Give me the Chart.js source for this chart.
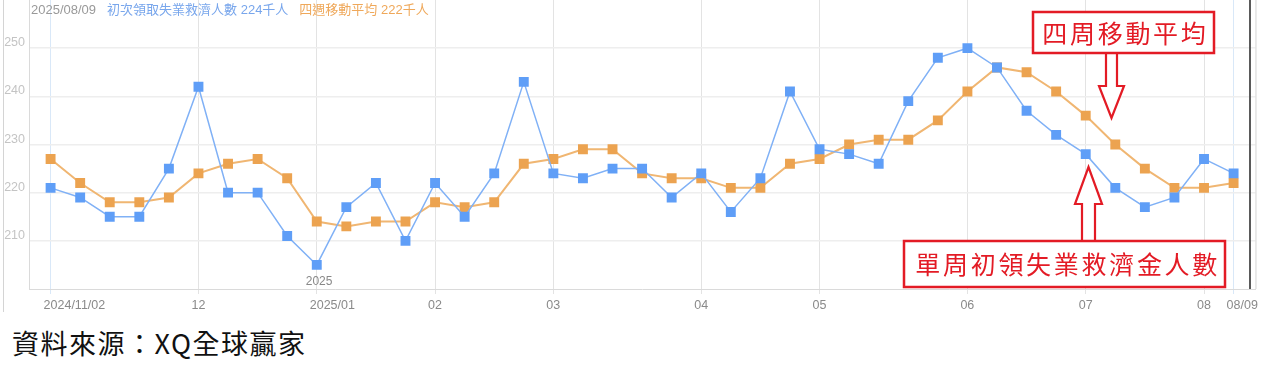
<!DOCTYPE html>
<html>
<head>
<meta charset="utf-8">
<script src="https://cdn.jsdelivr.net/npm/chart.js@4.4.0/dist/chart.umd.min.js"></script>
<style>
  body { margin: 0; background: #fff; width: 1269px; height: 377px; overflow: hidden; }
  #wrap { position: relative; width: 1269px; height: 320px; }
  #source {
    font-family: "Noto Sans CJK TC", sans-serif;
    font-size: 27px;
    line-height: 45px;
    padding-left: 12px;
    letter-spacing: 1.5px;
    color: #111;
  }
</style>
</head>
<body>
<div id="wrap"><canvas id="claimsChart" width="1269" height="320"></canvas></div>
<div id="source">資料來源：XQ全球贏家</div>
<script>
// weekly data, 2024/11/02 -> 2025/08/09 (thousand people)
const weeks = [
  '2024/11/02', '2024/11/09', '2024/11/16', '2024/11/23', '2024/11/30',
  '2024/12/07', '2024/12/14', '2024/12/21', '2024/12/28',
  '2025/01/04', '2025/01/11', '2025/01/18', '2025/01/25',
  '2025/02/01', '2025/02/08', '2025/02/15', '2025/02/22',
  '2025/03/01', '2025/03/08', '2025/03/15', '2025/03/22', '2025/03/29',
  '2025/04/05', '2025/04/12', '2025/04/19', '2025/04/26',
  '2025/05/03', '2025/05/10', '2025/05/17', '2025/05/24', '2025/05/31',
  '2025/06/07', '2025/06/14', '2025/06/21', '2025/06/28',
  '2025/07/05', '2025/07/12', '2025/07/19', '2025/07/26',
  '2025/08/02', '2025/08/09'
];
const initialClaims = [
  221, 219, 215, 215, 225, 242, 220, 220, 211, 205,
  217, 222, 210, 222, 215, 224, 243, 224, 223, 225,
  225, 219, 224, 216, 223, 241, 229, 228, 226, 239,
  248, 250, 246, 237, 232, 228, 221, 217, 219, 227, 224
];
const movingAvg4w = [
  227, 222, 218, 218, 219, 224, 226, 227, 223, 214,
  213, 214, 214, 218, 217, 218, 226, 227, 229, 229,
  224, 223, 223, 221, 221, 226, 227, 230, 231, 231,
  235, 241, 246, 245, 241, 236, 230, 225, 221, 221, 222
];
// x-axis ticks: week index and the label shown under it
const tickWeeks = [0, 5, 9, 13, 17, 22, 26, 31, 35, 39, 40];
const tickLabels = ['2024/11/02', '12', '2025/01', '02', '03', '04', '05', '06', '07', '08', '08/09'];
const yTicks = [210, 220, 230, 240, 250];
const yearMarkWeek = 9;

const blue = '#5f9ef7';
const orange = '#eca350';
const red = '#e31b25';
const axisFont = { family: '"Liberation Sans", sans-serif', size: 12.5 };

function toPoints(values) {
  return values.map((v, i) => ({ x: i, y: v }));
}

function drawArrow(ctx, cx, start, base, tip, shaftW, headW) {
  ctx.beginPath();
  ctx.moveTo(cx - shaftW / 2, start);
  ctx.lineTo(cx - shaftW / 2, base);
  ctx.lineTo(cx - headW / 2, base);
  ctx.lineTo(cx, tip);
  ctx.lineTo(cx + headW / 2, base);
  ctx.lineTo(cx + shaftW / 2, base);
  ctx.lineTo(cx + shaftW / 2, start);
  ctx.closePath();
  ctx.fillStyle = '#fff';
  ctx.fill();
  ctx.lineWidth = 2.2;
  ctx.strokeStyle = red;
  ctx.stroke();
}

function drawBox(ctx, x, y, w, h, text, textX, textY) {
  ctx.fillStyle = '#fff';
  ctx.fillRect(x, y, w, h);
  ctx.lineWidth = 2.5;
  ctx.strokeStyle = red;
  ctx.strokeRect(x, y, w, h);
  ctx.fillStyle = red;
  ctx.font = '25px "Noto Sans CJK TC", sans-serif';
  ctx.textAlign = 'center';
  ctx.textBaseline = 'middle';
  [...text].forEach((ch, i) => ctx.fillText(ch, textX + 13.8 + i * 27.7, textY));
}

const overlay = {
  id: 'overlay',
  afterDraw(chart) {
    const ctx = chart.ctx;
    const area = chart.chartArea;
    const xs = chart.scales.x;
    const ys = chart.scales.y;
    ctx.save();

    // y labels sit just above their grid lines
    ctx.fillStyle = '#c4c4c4';
    ctx.font = '12.5px "Liberation Sans", sans-serif';
    ctx.textAlign = 'right';
    ctx.textBaseline = 'alphabetic';
    yTicks.forEach(v => ctx.fillText(String(v), area.left - 4, ys.getPixelForValue(v) - 2));

    // outer frame line and right border
    ctx.strokeStyle = '#d4d4d4';
    ctx.lineWidth = 1;
    ctx.beginPath();
    ctx.moveTo(3.5, 0); ctx.lineTo(3.5, 312);
    ctx.moveTo(area.right + 0.5, 0); ctx.lineTo(area.right + 0.5, area.bottom);
    ctx.stroke();

    // dark cursor line
    ctx.strokeStyle = '#5a5a5a';
    ctx.lineWidth = 2;
    ctx.beginPath();
    ctx.moveTo(1250, 0); ctx.lineTo(1250, area.bottom);
    ctx.stroke();

    // year marker
    ctx.fillStyle = '#888';
    ctx.font = '12px "Liberation Sans", sans-serif';
    ctx.textAlign = 'left';
    ctx.textBaseline = 'bottom';
    ctx.fillText('2025', xs.getPixelForValue(yearMarkWeek) - 11, area.bottom - 1);

    // header line
    ctx.font = '13px "Liberation Sans", "Noto Sans CJK TC", sans-serif';
    ctx.textBaseline = 'middle';
    let x = 31;
    const parts = [
      ['2025/08/09', '#999999'],
      ['初次領取失業救濟人數 ' + initialClaims[initialClaims.length - 1] + '千人', '#78a6ec'],
      ['四週移動平均 ' + movingAvg4w[movingAvg4w.length - 1] + '千人', '#efa85a']
    ];
    parts.forEach(([t, c]) => {
      ctx.fillStyle = c;
      ctx.fillText(t, x, 10);
      x += ctx.measureText(t).width + 11;
    });

    // annotations
    drawArrow(ctx, 1111.5, 53, 86, 118, 11, 25);
    drawArrow(ctx, 1088.5, 241, 204, 167, 13, 27);
    drawBox(ctx, 1033, 12, 181, 41, '四周移動平均', 1041, 33);
    drawBox(ctx, 904, 241, 321, 46, '單周初領失業救濟金人數', 914, 264);

    ctx.restore();
  }
};

new Chart(document.getElementById('claimsChart'), {
  type: 'line',
  data: {
    datasets: [{
      label: '初次領取失業救濟人數',
      data: toPoints(initialClaims),
      borderColor: '#80b1f6',
      borderWidth: 1.5,
      pointStyle: 'rect',
      pointRadius: 7,
      pointBorderWidth: 0,
      pointBackgroundColor: blue,
      tension: 0
    }, {
      label: '四週移動平均',
      data: toPoints(movingAvg4w),
      borderColor: '#f0b672',
      borderWidth: 2,
      pointStyle: 'rect',
      pointRadius: 7,
      pointBorderWidth: 0,
      pointBackgroundColor: orange,
      tension: 0
    }]
  },
  options: {
    responsive: false,
    animation: false,
    layout: { autoPadding: false, padding: { left: 0, right: 7, top: 0, bottom: 0 } },
    plugins: {
      legend: { display: false },
      tooltip: { enabled: false }
    },
    scales: {
      x: {
        type: 'linear',
        min: -0.73,
        max: 40.74,
        afterBuildTicks: s => { s.ticks = tickWeeks.map(v => ({ value: v })); },
        afterFit: s => { s.height = 31; },
        ticks: {
          autoSkip: false,
          maxRotation: 0,
          align: 'start',
          labelOffset: -7,
          padding: 4,
          color: '#8a8a8a',
          font: axisFont,
          callback: v => tickLabels[tickWeeks.indexOf(v)]
        },
        grid: {
          color: c => (c.tick && (c.tick.value === 0 || c.tick.value === 40)) ? '#d9e8f8' : '#e3e3e3',
          tickLength: 5
        },
        border: { color: '#dadada' }
      },
      y: {
        min: 200,
        max: 260,
        afterBuildTicks: s => { s.ticks = yTicks.map(v => ({ value: v })); },
        afterFit: s => { s.width = 29; },
        ticks: { display: false },
        grid: { color: '#eeeeee', lineWidth: 1.5, drawTicks: false },
        border: { color: '#dadada' }
      }
    }
  },
  plugins: [overlay]
});
</script>
</body>
</html>
